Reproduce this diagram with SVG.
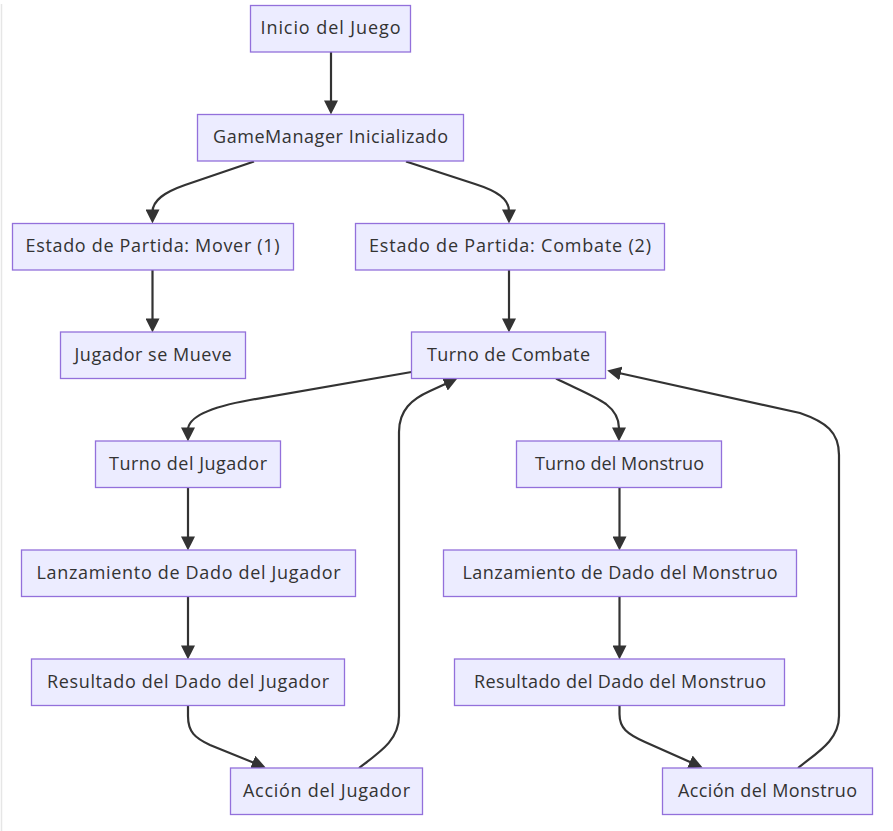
<svg xmlns="http://www.w3.org/2000/svg" width="893" height="831" viewBox="0 0 893 831">
<style>
.node rect{fill:#ECECFF;stroke:#9370DB;stroke-width:1.3}
.node text{font-family:"Open Sans","Liberation Sans",sans-serif;font-size:18px;fill:#333333;text-anchor:middle}
.edges path{fill:none;stroke:#333333;stroke-width:2.2;marker-end:url(#arrow)}
</style>
<defs>
<marker id="arrow" viewBox="0 0 10 10" refX="7.2" refY="5" markerWidth="14" markerHeight="14" markerUnits="userSpaceOnUse" orient="auto">
<path d="M0,0 L10,5 L0,10 z" fill="#333333"/>
</marker>
</defs>
<rect x="0" y="0" width="893" height="831" fill="#ffffff"/>
<line x1="1.5" y1="4" x2="1.5" y2="831" stroke="#e6e6e6" stroke-width="1.5"/>
<g class="edges">
<path d="M331,52 L331,110.5"/>
<path d="M254,161.5 L185,185 C165,192 152.5,200 152.5,212 L152.5,219.5"/>
<path d="M406,161.5 L475,184 C497,191 509,199 509,211 L509,219.5"/>
<path d="M152.5,270 L152.5,328.5"/>
<path d="M509,270 L509,328.5"/>
<path d="M411.5,372 L250,400 C205,408 188,418 188,430 L188,437.5"/>
<path d="M556,378.5 C575,388 595,396 606,404 C615,411 619,418 619,428 L619,437.5"/>
<path d="M188,487.5 L188,546.5"/>
<path d="M188,596.5 L188,655.5"/>
<path d="M188,705.5 L188,716 C188,732 195,738 210,745 L262,766"/>
<path d="M359,768 C380,752 399,740 399,716 L399,432 C399,410 412,399 430,391 L454,380"/>
<path d="M619.5,487.5 L619.5,546.5"/>
<path d="M619.5,596.5 L619.5,655.5"/>
<path d="M619.5,705.5 L619.5,714 C619.5,728 627,734 645,742 L699,766"/>
<path d="M798,768 C818,752 839,740 839,716 L839,455 C839,432 826,422 800,413 L611,371.3"/>
</g>
<g id="n1" class="node"><rect x="250.5" y="5.5" width="160" height="46.5"/><text x="330.5" y="34" textLength="140" lengthAdjust="spacing">Inicio del Juego</text></g>
<g id="n2" class="node"><rect x="197.5" y="114.5" width="266" height="46.5"/><text x="330.5" y="143" textLength="235" lengthAdjust="spacing">GameManager Inicializado</text></g>
<g id="n3" class="node"><rect x="12.5" y="223.5" width="281" height="46.5"/><text x="152.5" y="252" textLength="254" lengthAdjust="spacing">Estado de Partida: Mover (1)</text></g>
<g id="n4" class="node"><rect x="355.5" y="223.5" width="309" height="46.5"/><text x="510" y="252" textLength="282" lengthAdjust="spacing">Estado de Partida: Combate (2)</text></g>
<g id="n5" class="node"><rect x="60.5" y="332" width="185" height="46.5"/><text x="153" y="360.5" textLength="157" lengthAdjust="spacing">Jugador se Mueve</text></g>
<g id="n6" class="node"><rect x="411.5" y="332" width="194" height="46.5"/><text x="508.5" y="360.5" textLength="163" lengthAdjust="spacing">Turno de Combate</text></g>
<g id="n7" class="node"><rect x="95.5" y="441" width="185" height="46.5"/><text x="188" y="469.5" textLength="158" lengthAdjust="spacing">Turno del Jugador</text></g>
<g id="n8" class="node"><rect x="516.5" y="441" width="205" height="46.5"/><text x="619.5" y="469.5" textLength="169" lengthAdjust="spacing">Turno del Monstruo</text></g>
<g id="n9" class="node"><rect x="21.5" y="550" width="334" height="46.5"/><text x="188.5" y="578.5" textLength="304" lengthAdjust="spacing">Lanzamiento de Dado del Jugador</text></g>
<g id="n10" class="node"><rect x="443.5" y="550" width="353" height="46.5"/><text x="620" y="578.5" textLength="315" lengthAdjust="spacing">Lanzamiento de Dado del Monstruo</text></g>
<g id="n11" class="node"><rect x="31.5" y="659" width="313" height="46.5"/><text x="188" y="687.5" textLength="282" lengthAdjust="spacing">Resultado del Dado del Jugador</text></g>
<g id="n12" class="node"><rect x="454.5" y="659" width="330" height="46.5"/><text x="620" y="687.5" textLength="292" lengthAdjust="spacing">Resultado del Dado del Monstruo</text></g>
<g id="n13" class="node"><rect x="230.5" y="768" width="192" height="46.5"/><text x="326.5" y="796.5" textLength="167" lengthAdjust="spacing">Acción del Jugador</text></g>
<g id="n14" class="node"><rect x="662.5" y="768" width="210" height="46.5"/><text x="767.5" y="796.5" textLength="179" lengthAdjust="spacing">Acción del Monstruo</text></g>
</svg>
